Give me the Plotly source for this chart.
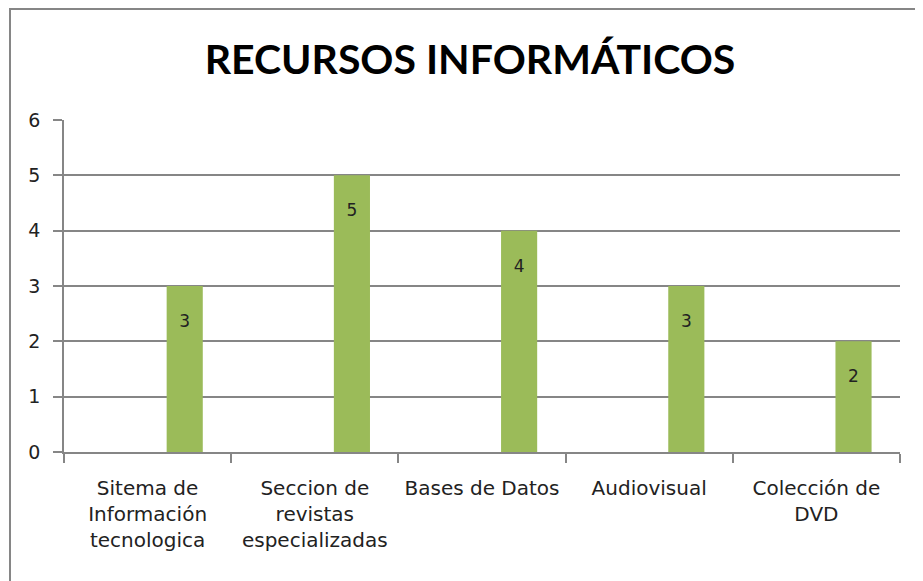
import plotly.graph_objects as go

categories = ["Sitema de<br>Información<br>tecnologica", "Seccion de<br>revistas<br>especializadas",
              "Bases de Datos", "Audiovisual", "Colección de<br>DVD"]
values = [3, 5, 4, 3, 2]
y_ticks = [0, 1, 2, 3, 4, 5, 6]
title_text = "RECURSOS INFORMÁTICOS"

FONT = "DejaVu Sans"
W, H = 923, 581
# page content is offset by ~8px (body margin); figure coords = screen - 8
L, R, T, B = 56, 31, 112, 137
pw, ph = W - L - R, H - T - B

fig = go.Figure()
fig.add_trace(go.Bar(
    x=categories, y=values,
    width=0.216, offset=0.114,
    marker=dict(color="#9BBB59", line=dict(width=0)),
    texttemplate="&nbsp;<br>%{y}", textposition="inside", insidetextanchor="end",
    textfont=dict(family=FONT, size=17, color="#222222"),
))

fig.update_layout(
    width=W, height=H,
    margin=dict(l=L, r=R, t=T, b=B),
    paper_bgcolor="white", plot_bgcolor="white",
    showlegend=False,
    title=dict(text="<b>" + title_text + "</b>", x=462 / W, xanchor="center",
               y=1 - 52 / H, yanchor="middle",
               font=dict(family="Lato", size=41, color="#000000")),
    xaxis=dict(
        type="category",
        range=[-0.5, len(categories) - 0.5],
        showline=True, linecolor="#868686", linewidth=1.5,
        ticks="outside", ticklen=9, tickcolor="#868686", tickwidth=1.5,
        tickson="boundaries", showgrid=False,
        tickfont=dict(family=FONT, size=20, color="#222222"),
        ticklabelstandoff=17,
    ),
    yaxis=dict(
        range=[0, 6], tickvals=y_ticks,
        showline=True, linecolor="#868686", linewidth=1.5,
        ticks="outside", ticklen=9, tickcolor="#868686", tickwidth=1.5,
        showgrid=True, gridcolor="#868686", gridwidth=1.5, zeroline=False,
        tickfont=dict(family=FONT, size=19, color="#222222"),
        ticklabelstandoff=9,
    ),
    shapes=[dict(type="rect", xref="paper", yref="paper",
                 x0=(2 - L) / pw, x1=(940 - L) / pw,
                 y0=-(600 - (H - B)) / ph, y1=(H - B - 1) / ph,
                 line=dict(color="#868686", width=2), fillcolor="rgba(0,0,0,0)", layer="below")],
)

fig.write_html("out.html")
